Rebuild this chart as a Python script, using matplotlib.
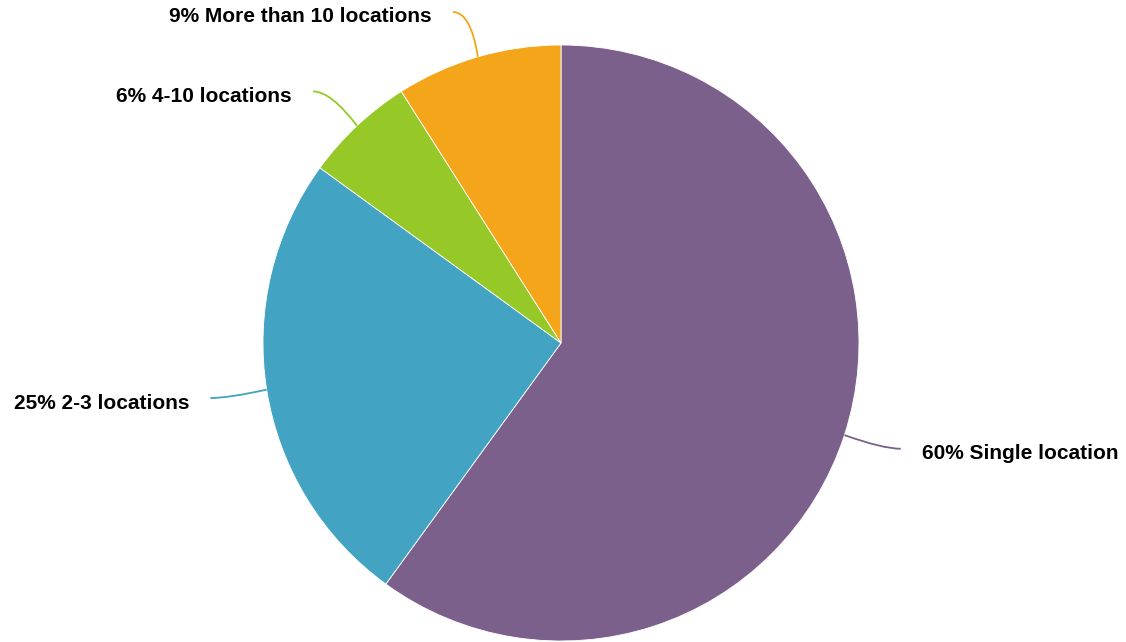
import numpy as np
import matplotlib
matplotlib.use("Agg")
import matplotlib.pyplot as plt
from matplotlib.path import Path
from matplotlib.patches import PathPatch

categories = ["Single location", "2-3 locations", "4-10 locations", "More than 10 locations"]
values = [60, 25, 6, 9]
colors = ["#7C608C", "#42A3C2", "#96C828", "#F4A51A"]

W, H = 1126, 642
fig = plt.figure(figsize=(W / 100, H / 100), dpi=100)
ax = fig.add_axes([0, 0, 1, 1])

cx, cy, R = 561, H - 343, 298
wedges, _ = ax.pie(values, colors=colors, startangle=90, counterclock=False,
                   center=(cx, cy), radius=R, frame=True,
                   wedgeprops=dict(edgecolor="white", linewidth=0.6))
ax.set_xlim(0, W)
ax.set_ylim(0, H)
ax.set_aspect("equal")
ax.axis("off")

r_end = 352
# small layout nudges of the label anchor (pixels: dx, dy-down)
nudges = [(5, -3), (-3, 0), (-7, 5), (-10, 7)]
for w, cat, val, col, (ndx, ndy) in zip(wedges, categories, values, colors, nudges):
    mid = np.deg2rad((w.theta1 + w.theta2) / 2)
    sx, sy = cx + R * np.cos(mid), cy + R * np.sin(mid)
    ex, ey = cx + r_end * np.cos(mid) + ndx, cy + r_end * np.sin(mid) - ndy
    side = 1 if np.cos(mid) >= 0 else -1
    ctrl = (ex - side * 18, ey)
    path = Path([(sx, sy), ctrl, (ex, ey)], [Path.MOVETO, Path.CURVE3, Path.CURVE3])
    ax.add_patch(PathPatch(path, facecolor="none", edgecolor=col, linewidth=1.3))
    ax.text(ex + side * 21, ey - 5, f"{val}% {cat}", ha="left" if side > 0 else "right",
            va="center", fontsize=15, fontweight="bold", family="Liberation Sans",
            color="#000000")

fig.savefig("out.png", dpi=100)
